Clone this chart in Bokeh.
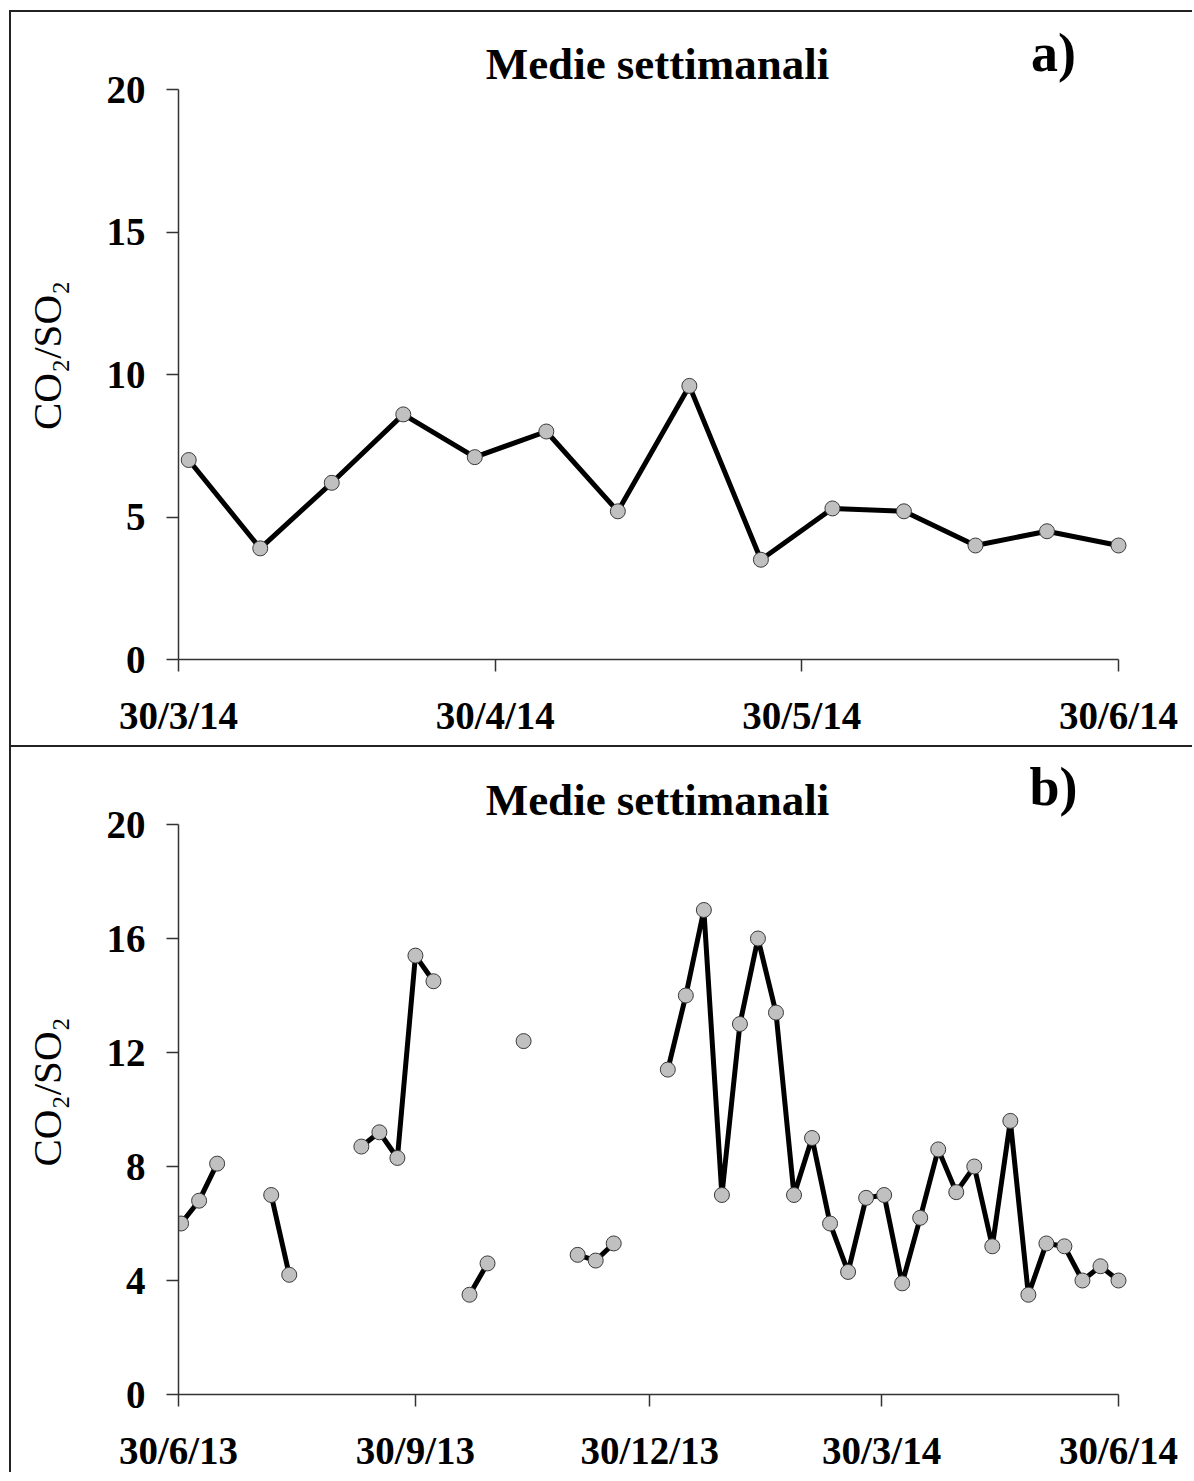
import math
import numpy as np
import pandas as pd
from bokeh.plotting import figure
from bokeh.models import ColumnDataSource, FixedTicker, Range1d, Label
from bokeh.layouts import column
from bokeh.embed import file_html
from bokeh.resources import INLINE

# ---------------- data ----------------
# panel a: weekly means 2014
dates_a = ["2014-03-31", "2014-04-07", "2014-04-14", "2014-04-21",
           "2014-04-28", "2014-05-05", "2014-05-12", "2014-05-19", "2014-05-26",
           "2014-06-02", "2014-06-09", "2014-06-16", "2014-06-23", "2014-06-30"]
ratio_a = [7.0, 3.9, 6.2, 8.6, 7.1, 8.0, 5.2, 9.6, 3.5, 5.3, 5.2, 4.0, 4.5, 4.0]
xticks_a = ["2014-03-30", "2014-04-30", "2014-05-30", "2014-06-30"]
xlabels_a = ["30/3/14", "30/4/14", "30/5/14", "30/6/14"]
yticks_a = [0, 5, 10, 15, 20]

# panel b: weekly means June 2013 - June 2014 (nan = no data)
nan = float("nan")
dates_b = ["2013-07-01", "2013-07-08", "2013-07-15", "2013-07-22",
           "2013-07-29", "2013-08-05", "2013-08-12", "2013-08-19", "2013-08-26",
           "2013-09-02", "2013-09-09", "2013-09-16", "2013-09-23", "2013-09-30",
           "2013-10-07", "2013-10-14", "2013-10-21", "2013-10-28", "2013-11-04",
           "2013-11-11", "2013-11-18", "2013-11-25", "2013-12-02", "2013-12-09",
           "2013-12-16", "2013-12-23", "2013-12-30", "2014-01-06", "2014-01-13",
           "2014-01-20", "2014-01-27", "2014-02-03", "2014-02-10", "2014-02-17",
           "2014-02-24", "2014-03-03", "2014-03-10", "2014-03-17", "2014-03-24",
           "2014-03-31", "2014-04-07", "2014-04-14", "2014-04-21", "2014-04-28",
           "2014-05-05", "2014-05-12", "2014-05-19", "2014-05-26", "2014-06-02",
           "2014-06-09", "2014-06-16", "2014-06-23", "2014-06-30"]
ratio_b = [6.0, 6.8, 8.1, nan,
           nan, 7.0, 4.2, nan, nan,
           nan, 8.7, 9.2, 8.3, 15.4,
           14.5, nan, 3.5, 4.6, nan,
           12.4, nan, nan, 4.9, 4.7,
           5.3, nan, nan, 11.4, 14.0,
           17.0, 7.0, 13.0, 16.0, 13.4,
           7.0, 9.0, 6.0, 4.3, 6.9,
           7.0, 3.9, 6.2, 8.6, 7.1,
           8.0, 5.2, 9.6, 3.5, 5.3,
           5.2, 4.0, 4.5, 4.0]
xticks_b = ["2013-06-30", "2013-09-30", "2013-12-30", "2014-03-30", "2014-06-30"]
xlabels_b = ["30/6/13", "30/9/13", "30/12/13", "30/3/14", "30/6/14"]
yticks_b = [0, 4, 8, 12, 16, 20]

TITLE = "Medie settimanali"
YLABEL = "CO\u2082/SO\u2082"
SERIF = "Liberation Serif"
YMAX = 20
NBSP = "\u00a0"


def ms(s):
    return pd.Timestamp(s).value / 1e6


def make_panel(dates, vals, xticks, xlabels, yticks, tag,
               border_top, frame_h, border_bottom, y_extra_px, title_dy, tag_dy, styles):
    first, last = ms(xticks[0]), ms(xticks[-1])
    span = last - first
    axis_px = 940.0
    pad = span * 10.0 / axis_px
    ppu = (frame_h - y_extra_px) / YMAX
    y_end = YMAX + y_extra_px / ppu

    def x_at(page_px):  # page pixel -> data (axis start at page x 178)
        return first + (page_px - 178.0) * span / axis_px

    height = border_top + frame_h + border_bottom
    p = figure(width=1183, height=height, x_axis_type="datetime",
               x_range=Range1d(first, last + pad), y_range=Range1d(0, y_end),
               output_backend="svg", toolbar_location=None,
               min_border_left=167, min_border_right=66,
               min_border_top=border_top, min_border_bottom=border_bottom,
               background_fill_color="white", border_fill_color="white")
    p.grid.visible = False
    p.outline_line_color = None

    src = ColumnDataSource(dict(x=pd.to_datetime(dates), y=np.array(vals, dtype=float)))
    p.line("x", "y", source=src, line_color="black", line_width=5)
    p.scatter("x", "y", source=src, size=15, fill_color="#c0c0c0",
              line_color="#3a3a3a", line_width=1)

    ax = p.xaxis[0]
    ax.ticker = FixedTicker(ticks=[ms(d) for d in xticks])
    ax.major_label_overrides = {ms(d): lab for d, lab in zip(xticks, xlabels)}
    ax.bounds = (first, last)
    ax.minor_tick_line_color = None
    ax.major_tick_out = 12
    ax.major_tick_in = 0
    ax.axis_line_color = "#333333"
    ax.axis_line_width = 1.5
    ax.major_tick_line_color = "#333333"
    ax.major_tick_line_width = 1.5
    ax.major_label_text_font = SERIF
    ax.major_label_text_font_style = "bold"
    ax.major_label_text_font_size = "39px"
    ax.major_label_text_color = "black"
    ax.major_label_standoff = 22

    ay = p.yaxis[0]
    ay.ticker = FixedTicker(ticks=yticks)
    ay.bounds = (0, YMAX)
    ay.minor_tick_line_color = None
    ay.major_tick_out = 12
    ay.major_tick_in = 0
    ay.axis_line_color = "#333333"
    ay.axis_line_width = 1.5
    ay.major_tick_line_color = "#333333"
    ay.major_tick_line_width = 1.5
    ay.major_label_text_font = SERIF
    ay.major_label_text_font_style = "bold"
    ay.major_label_text_font_size = "39px"
    ay.major_label_text_color = "black"
    ay.major_label_standoff = 21
    ay.axis_label = YLABEL + NBSP * 3
    ay.axis_label_text_font = SERIF
    ay.axis_label_text_font_style = "normal"
    ay.axis_label_text_font_size = "41px"
    ay.axis_label_text_color = "black"
    ay.axis_label_standoff = 34

    # title
    p.add_layout(Label(x=x_at(657), y=YMAX + title_dy / ppu, text=TITLE,
                       text_font=SERIF, text_font_style="bold", text_font_size="45px",
                       text_align="center", text_baseline="alphabetic", text_color="black"))
    # panel tag
    p.add_layout(Label(x=x_at(1053), y=YMAX + tag_dy / ppu, text=tag,
                       text_font=SERIF, text_font_style="bold", text_font_size="54px",
                       text_align="center", text_baseline="alphabetic", text_color="black"))

    p.styles = styles
    return p


BORDER = "2px solid #222222"
pa = make_panel(dates_a, ratio_a, xticks_a, xlabels_a, yticks_a, "a)",
                8, 639, 88, 69, 26, 37,
                {"border-top": BORDER, "border-left": BORDER,
                 "margin-top": "10px", "margin-left": "9px"})
pb = make_panel(dates_b, ratio_b, xticks_b, xlabels_b, yticks_b, "b)",
                11, 636, 80, 66, 25, 38,
                {"border-top": BORDER, "border-left": BORDER, "margin-left": "9px"})

layout = column(pa, pb, spacing=0)
open("out.html", "w").write(file_html(layout, INLINE))
